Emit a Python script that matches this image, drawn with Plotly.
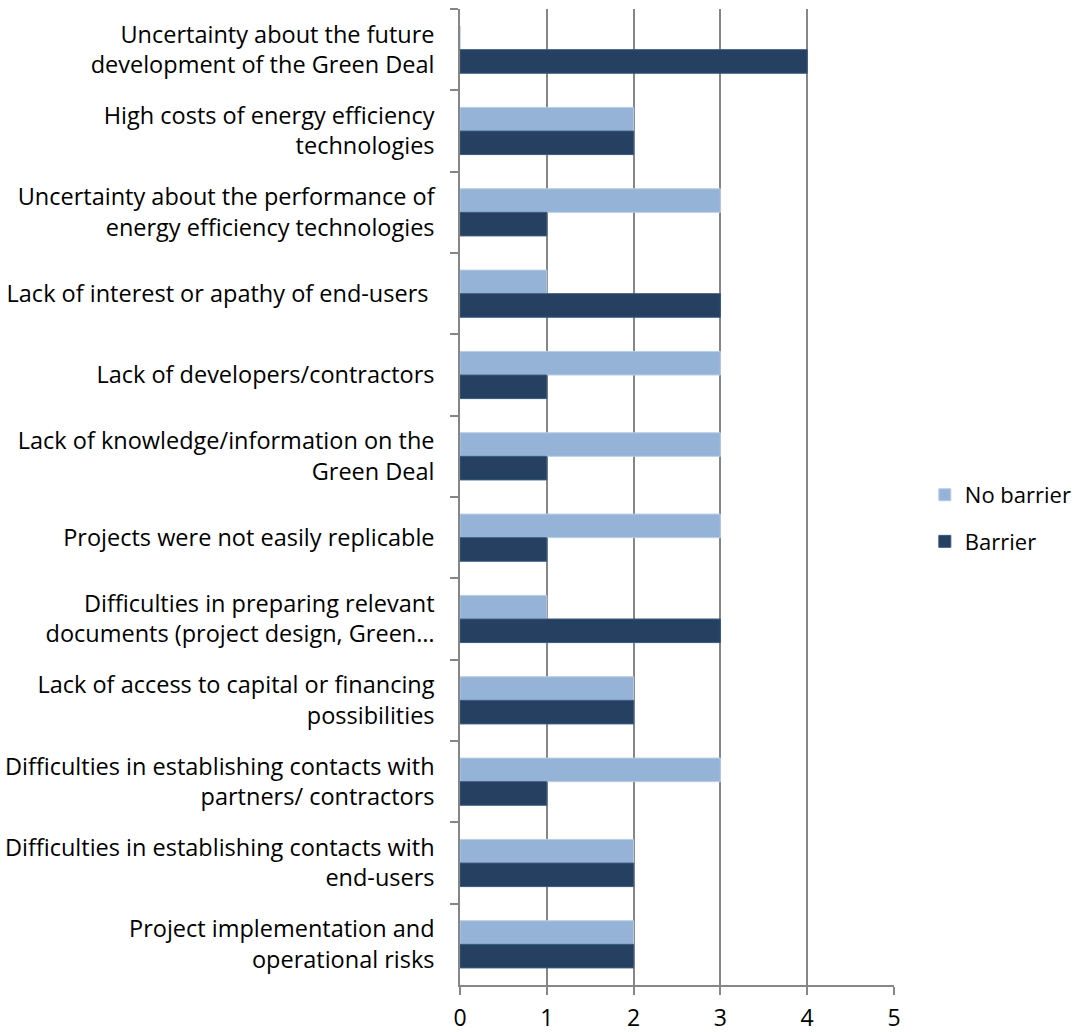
import plotly.graph_objects as go

categories = [
    "Uncertainty about the future<br>development of the Green Deal",
    "High costs of energy efficiency<br>technologies",
    "Uncertainty about the performance of<br>energy efficiency technologies",
    "Lack of interest or apathy of end-users ",
    "Lack of developers/contractors",
    "Lack of knowledge/information on the<br>Green Deal",
    "Projects were not easily replicable",
    "Difficulties in preparing relevant<br>documents (project design, Green…",
    "Lack of access to capital or financing<br>possibilities",
    "Difficulties in establishing contacts with<br>partners/ contractors",
    "Difficulties in establishing contacts with<br>end-users",
    "Project implementation and<br>operational risks",
]
no_barrier = [0, 2, 3, 1, 3, 3, 3, 1, 2, 3, 2, 2]
barrier = [4, 2, 1, 3, 1, 1, 1, 3, 2, 1, 2, 2]
x_ticks = [0, 1, 2, 3, 4, 5]

fig = go.Figure()
fig.add_trace(go.Bar(
    y=categories, x=no_barrier, orientation="h", name="No barrier",
    legendgroup="nb",
    marker=dict(color="#95B3D7", line=dict(color="#B9CDE5", width=1)),
))
fig.add_trace(go.Bar(
    y=categories, x=barrier, orientation="h", name="Barrier",
    legendgroup="b",
    marker=dict(color="#254061", line=dict(color="#3A5A80", width=1)),
))

font_family = "Open Sans, Liberation Sans, sans-serif"
fig.update_layout(
    width=1081, height=1032,
    margin=dict(l=460, r=187, t=9, b=47, autoexpand=False),
    paper_bgcolor="white", plot_bgcolor="white",
    barmode="group", bargap=0.42, bargroupgap=0,
    font=dict(family=font_family, size=23.5, color="#000000"),
    legend=dict(
        x=1.071, y=0.478, xanchor="left", yanchor="middle",
        font=dict(size=22), tracegroupgap=15, itemwidth=30,
    ),
    showlegend=True,
)
fig.update_xaxes(
    range=[0, 5], tickvals=x_ticks, ticktext=[str(v) for v in x_ticks],
    showgrid=True, gridcolor="#868686", gridwidth=1.5,
    showline=True, linecolor="#868686", linewidth=1.5,
    ticks="outside", ticklen=8, tickcolor="#868686", tickwidth=1.5,
    zeroline=False, tickfont=dict(size=23), ticklabelstandoff=4,
    fixedrange=True,
)
fig.update_yaxes(
    autorange="reversed", tickson="boundaries",
    showline=True, linecolor="#868686", linewidth=1.5,
    ticks="outside", ticklen=8, tickcolor="#868686", tickwidth=1.5,
    showgrid=False, ticklabelstandoff=19, fixedrange=True,
)

fig.write_html("out.html")
